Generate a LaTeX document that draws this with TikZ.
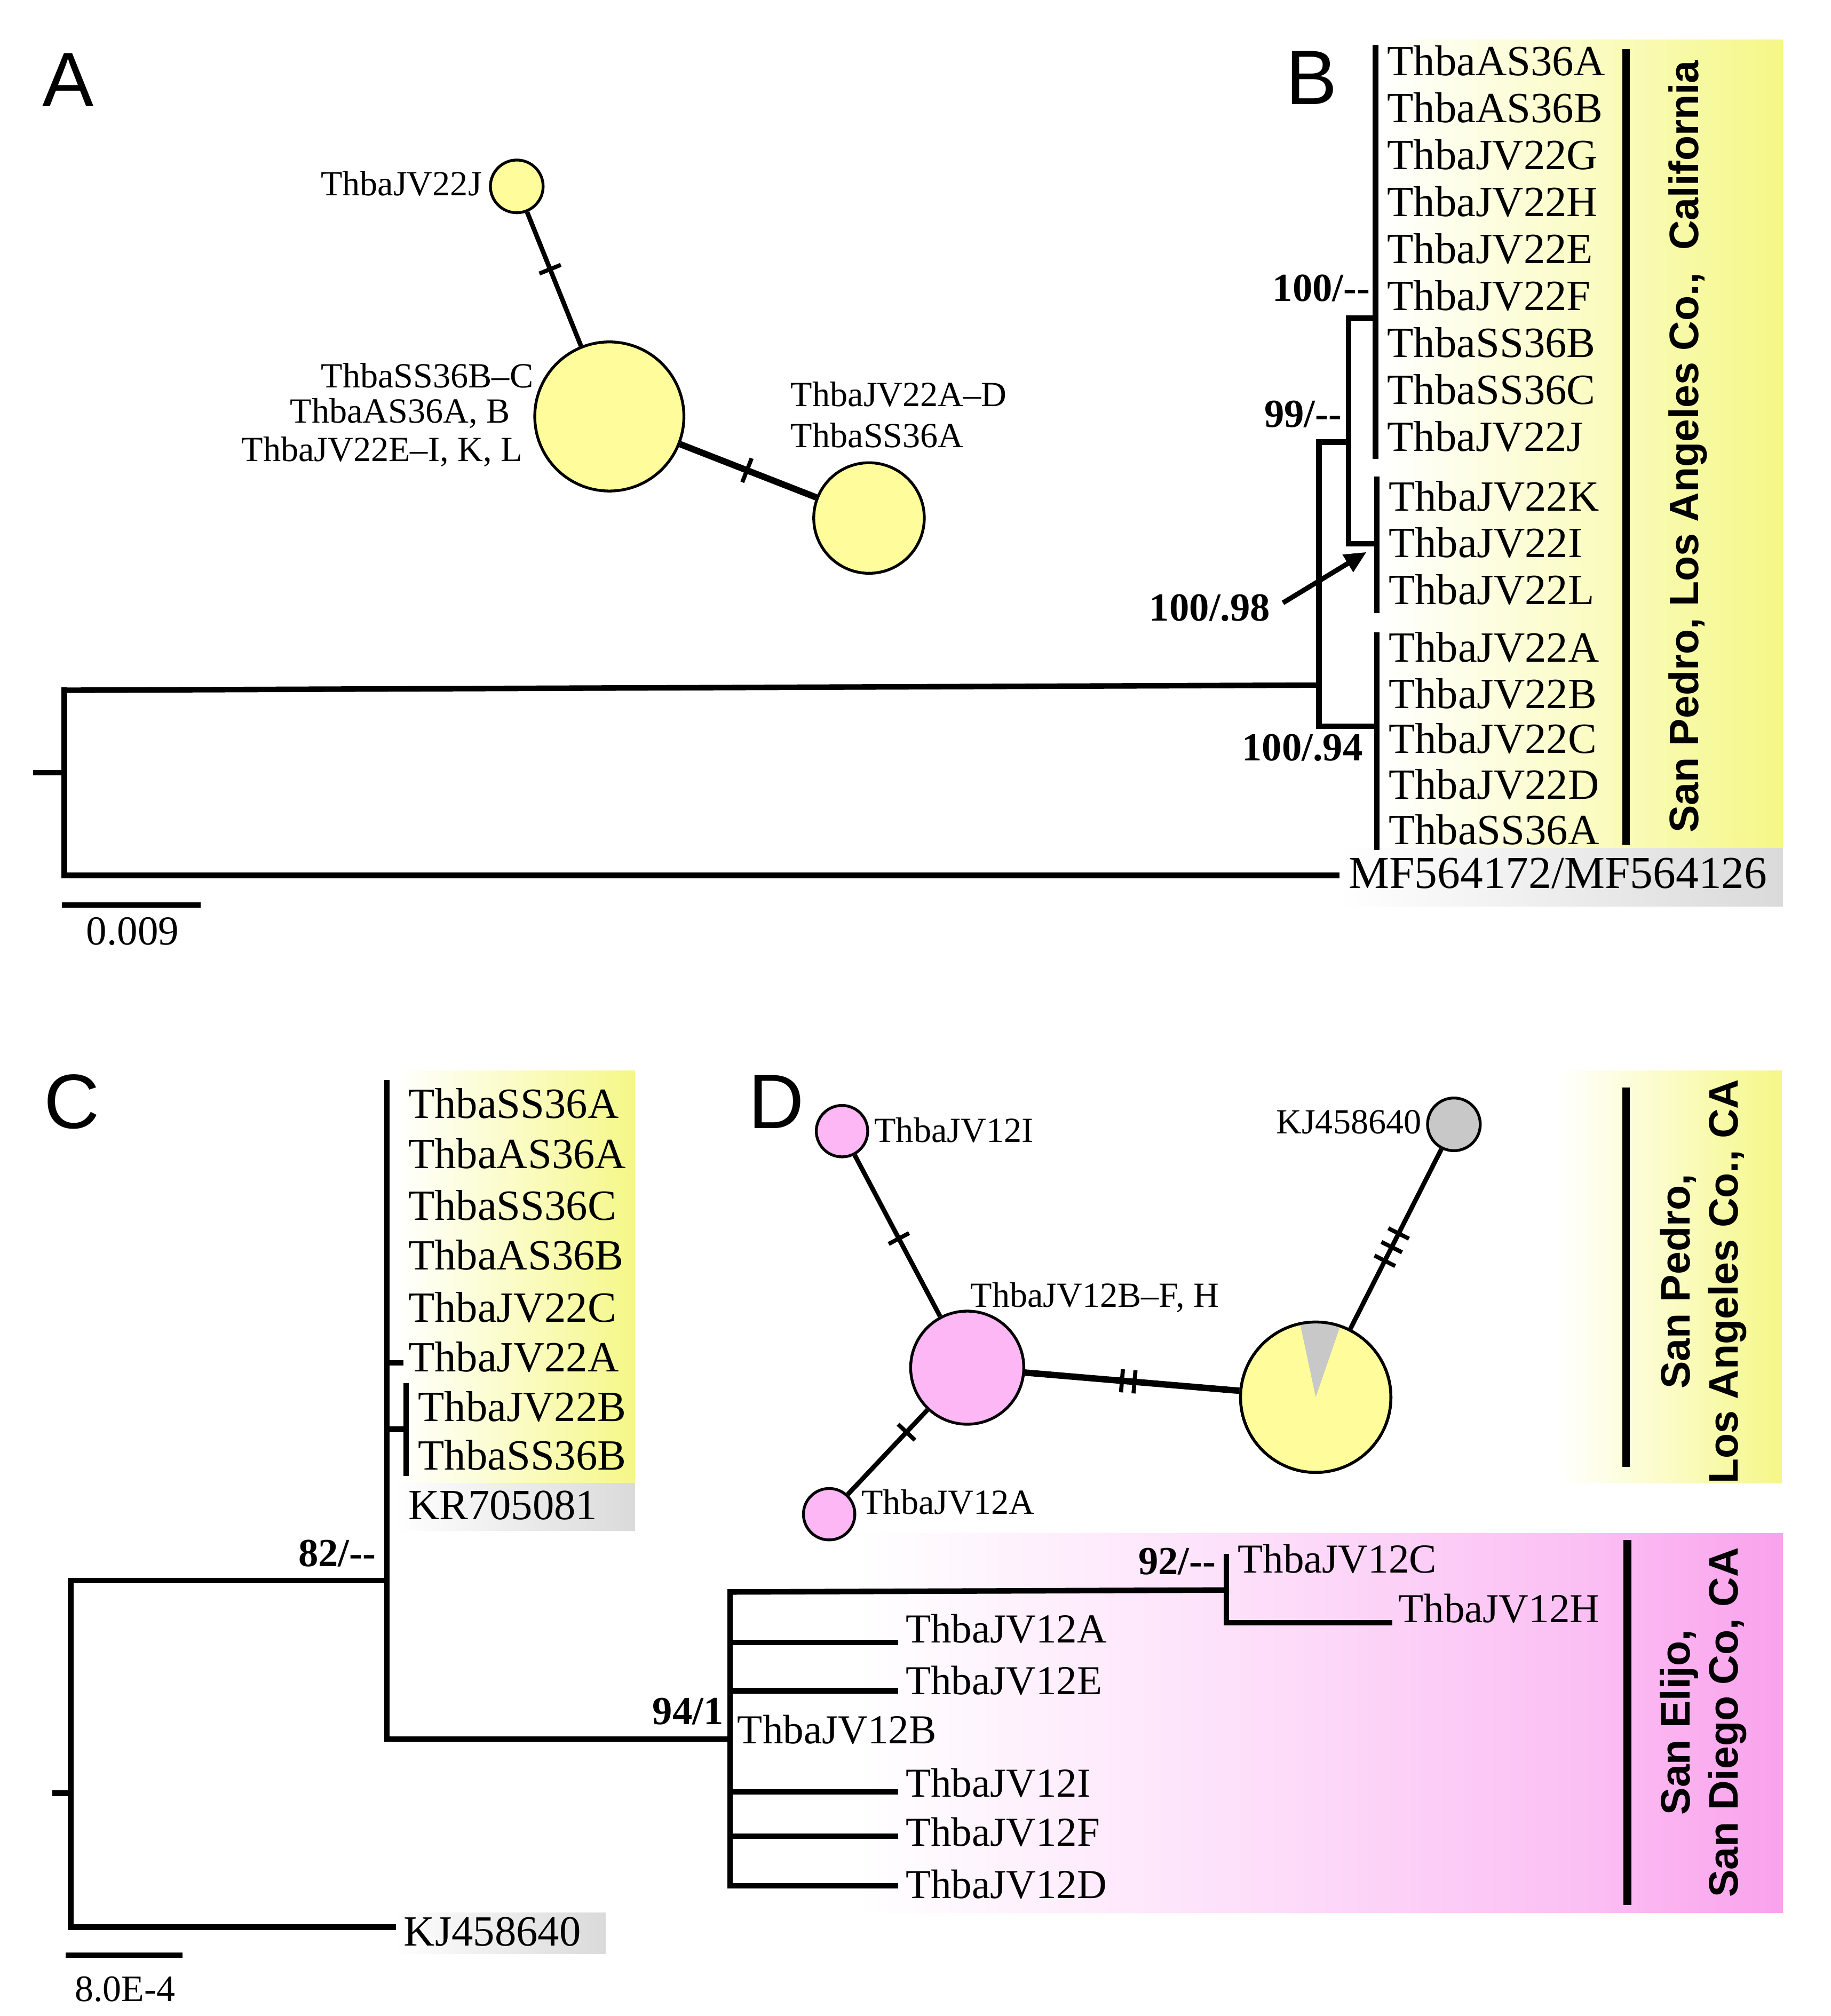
\documentclass[tikz,border=0pt]{standalone}
\usepackage{fontspec}
\setmainfont{Liberation Serif}
\setsansfont{Liberation Sans}
\usetikzlibrary{calc,arrows.meta}
\definecolor{hapyel}{RGB}{255,253,155}
\definecolor{happnk}{RGB}{253,183,245}
\definecolor{hapgry}{RGB}{200,200,200}
\definecolor{yelM}{RGB}{251,252,200}
\definecolor{yelR}{RGB}{245,247,135}
\definecolor{pnkA}{RGB}{253,222,250}
\definecolor{pnkB}{RGB}{251,190,243}
\definecolor{pnkR}{RGB}{250,162,236}
\definecolor{gryR}{RGB}{218,218,218}
\pgfdeclarehorizontalshading{yelshade}{100bp}{color(0bp)=(white); color(27bp)=(white); color(50bp)=(yelM); color(75bp)=(yelR); color(100bp)=(yelR)}
\pgfdeclarehorizontalshading{pnkshade}{100bp}{color(0bp)=(white); color(31bp)=(white); color(50bp)=(pnkA); color(66bp)=(pnkB); color(75bp)=(pnkR); color(100bp)=(pnkR)}
\pgfdeclarehorizontalshading{gryshade}{100bp}{color(0bp)=(white); color(25bp)=(white); color(75bp)=(gryR); color(100bp)=(gryR)}
\tikzset{
  tree/.style={line width=4.3pt, line cap=rect},
  tip/.style={anchor=base west, inner sep=0pt, font=\fontsize{33.5}{40}\selectfont},
  tipD/.style={anchor=base west, inner sep=0pt, font=\fontsize{32}{38}\selectfont},
  boot/.style={inner sep=0pt, font=\bfseries\fontsize{31}{36}\selectfont},
  panel/.style={anchor=base west, inner sep=0pt, font=\sffamily\fontsize{60}{70}\selectfont},
  net/.style={line width=3.6pt},
  netthick/.style={line width=5pt},
  hap/.style={circle, draw, line width=2.2pt, inner sep=0pt},
  hlabel/.style={inner sep=0pt, font=\fontsize{27.5}{32}\selectfont},
  tickmark/.style={line width=3.2pt},
  bar/.style={line width=6pt},
  region/.style={inner sep=0pt, align=center, rotate=90, font=\sffamily\bfseries\fontsize{32}{37}\selectfont},
}
\begin{document}
\begin{tikzpicture}[x=1pt, y=-1pt]
\useasboundingbox (0,0) rectangle (1424,1568.4);
\fill[white] (0,0) rectangle (1424,1568.4);

% ---------------- backgrounds ----------------
\shade[shading=yelshade] (1062,31) rectangle (1387,660);
\shade[shading=gryshade] (1040,660) rectangle (1387,705);
\shade[shading=yelshade] (301,833) rectangle (494,1154);
\shade[shading=gryshade] (306,1154) rectangle (494,1191);
\shade[shading=gryshade] (306,1488) rectangle (471,1520);
\shade[shading=yelshade] (1204,833) rectangle (1386,1154);
\shade[shading=pnkshade] (570,1193) rectangle (1387,1488);

% ---------------- panel letters ----------------
\node[panel] (labA) at (33,83) {A};
\node[panel] (labB) at (1000,81) {B};
\node[panel] (labC) at (34,878) {C};
\node[panel] (labD) at (582,878) {D};

% ---------------- panel A network ----------------
\node[hap, fill=hapyel, minimum size=41] (aJ) at (402,145) {};
\node[hap, fill=hapyel, minimum size=116] (aHub) at (474,324) {};
\node[hap, fill=hapyel, minimum size=86] (aAD) at (676,403) {};
\draw[net] (aJ) -- (aHub);
\draw[netthick] (aHub) -- (aAD);
\coordinate (ta1) at ($(aJ)!0.36!(aHub)$);
\draw[tickmark] ($(ta1)!9pt!90:(aHub)$) -- ($(ta1)!9pt!-90:(aHub)$);
\coordinate (ta2) at ($(aHub)!0.53!(aAD)$);
\draw[tickmark] ($(ta2)!10pt!90:(aAD)$) -- ($(ta2)!10pt!-90:(aAD)$);
\node[hlabel, anchor=base east] (laJ) at (375,152) {ThbaJV22J};
\node[hlabel, anchor=base east] (laH1) at (415,301.5) {ThbaSS36B–C};
\node[hlabel, anchor=base east] (laH2) at (397,329) {ThbaAS36A, B};
\node[hlabel, anchor=base east] (laH3) at (406.5,359) {ThbaJV22E–I, K, L};
\node[hlabel, anchor=base west] (laA1) at (615,316) {ThbaJV22A–D};
\node[hlabel, anchor=base west] (laA2) at (615,348) {ThbaSS36A};

% ---------------- panel B tree ----------------
\coordinate (bStub) at (28,601);
\coordinate (bRoot) at (50,601);
\coordinate (bRootT) at (50,537);
\coordinate (bRootB) at (50,681);
\coordinate (bIn) at (1026,533);
\coordinate (bInT) at (1026,344);
\coordinate (bInB) at (1026,565);
\coordinate (bN2) at (1049,344);
\coordinate (bN2T) at (1049,247.6);
\coordinate (bN2B) at (1049,423);
\coordinate (bN3) at (1070,247.6);
\coordinate (bN3T) at (1070,37);
\coordinate (bN3B) at (1070,355);
\coordinate (bN4) at (1071,423);
\coordinate (bN4T) at (1071,373);
\coordinate (bN4B) at (1071,475);
\coordinate (bN5) at (1071,565);
\coordinate (bN5T) at (1071,494);
\coordinate (bN5B) at (1071,659);
\coordinate (bOut) at (1040,681);
\draw[tree] (bStub) -- (bRoot);
\draw[tree] (bRootT) -- (bRootB);
\draw[tree] (bRootT) -- (bIn);
\draw[tree] (bRootB) -- (bOut);
\draw[tree] (bInT) -- (bInB);
\draw[tree] (bInT) -- (bN2);
\draw[tree] (bInB) -- (bN5);
\draw[tree] (bN2T) -- (bN2B);
\draw[tree] (bN2T) -- (bN3);
\draw[tree] (bN2B) -- (bN4);
\draw[tree] (bN3T) -- (bN3B);
\draw[tree] (bN4T) -- (bN4B);
\draw[tree] (bN5T) -- (bN5B);

\node[tip] (b1) at (1079,58.8) {ThbaAS36A};
\node[tip] (b2) at (1079,95.3) {ThbaAS36B};
\node[tip] (b3) at (1079,131.8) {ThbaJV22G};
\node[tip] (b4) at (1079,168.3) {ThbaJV22H};
\node[tip] (b5) at (1079,204.8) {ThbaJV22E};
\node[tip] (b6) at (1079,241.3) {ThbaJV22F};
\node[tip] (b7) at (1079,277.8) {ThbaSS36B};
\node[tip] (b8) at (1079,314.3) {ThbaSS36C};
\node[tip] (b9) at (1079,350.8) {ThbaJV22J};
\node[tip] (b10) at (1080,397.5) {ThbaJV22K};
\node[tip] (b11) at (1080,433.5) {ThbaJV22I};
\node[tip] (b12) at (1080,470) {ThbaJV22L};
\node[tip] (b13) at (1080,515) {ThbaJV22A};
\node[tip] (b14) at (1080,551) {ThbaJV22B};
\node[tip] (b15) at (1080,586) {ThbaJV22C};
\node[tip] (b16) at (1080,621.5) {ThbaJV22D};
\node[tip] (b17) at (1080,657) {ThbaSS36A};
\node[tip, font=\fontsize{35.5}{40}\selectfont] (bMF) at (1049,691) {MF564172/MF564126};

\node[boot, anchor=base east] (bs1) at (1066,234.4) {100/-{}-};
\node[boot, anchor=base east] (bs2) at (1044,332.4) {99/-{}-};
\node[boot, anchor=base west] (bs3) at (894,483) {100/.98};
\node[boot, anchor=base west] (bs4) at (966,591.6) {100/.94};
\coordinate (arrTail) at (998,469);
\coordinate (arrTip) at (1063,429.5);
\draw[line width=3.8pt, -{Triangle[length=17pt,width=15pt]}] (arrTail) -- (arrTip);

\coordinate (bBarT) at (1265,38);
\coordinate (bBarB) at (1265,657);
\draw[bar] (bBarT) -- (bBarB);
\node[region] (bReg) at (1313,347.5) {San Pedro, Los Angeles Co.,\ \ California};

% scale bar B
\coordinate (sbB1) at (48,704);
\coordinate (sbB2) at (156,704);
\draw[line width=4.3pt] (sbB1) -- (sbB2);
\node[tip, font=\fontsize{32}{38}\selectfont] (sbBl) at (67,735) {0.009};

% ---------------- panel C tree ----------------
\coordinate (cStub) at (43,1395);
\coordinate (cRoot) at (55,1395);
\coordinate (cRootT) at (55,1229.7);
\coordinate (cRootB) at (55,1499.3);
\coordinate (cIn) at (301,1229.7);
\coordinate (cInT) at (301,842.4);
\coordinate (cInB) at (301,1353);
\coordinate (cTk) at (311.5,1060.3);
\coordinate (cTk0) at (301,1060.3);
\coordinate (cSub0) at (301,1112);
\coordinate (cSub) at (316,1112);
\coordinate (cSubT) at (316,1078);
\coordinate (cSubB) at (316,1146);
\coordinate (cOut) at (306,1499.3);
\coordinate (dRoot) at (568,1353);
\draw[tree] (cStub) -- (cRoot);
\draw[tree] (cRootT) -- (cRootB);
\draw[tree] (cRootT) -- (cIn);
\draw[tree] (cRootB) -- (cOut);
\draw[tree] (cInT) -- (cInB);
\draw[tree] (cTk0) -- (cTk);
\draw[tree] (cSub0) -- (cSub);
\draw[tree] (cSubT) -- (cSubB);
\draw[tree] (cInB) -- (dRoot);

\node[tip] (c1) at (317.4,870) {ThbaSS36A};
\node[tip] (c2) at (317.4,908.8) {ThbaAS36A};
\node[tip] (c3) at (317.4,949) {ThbaSS36C};
\node[tip] (c4) at (317.4,987.8) {ThbaAS36B};
\node[tip] (c5) at (317.4,1028.4) {ThbaJV22C};
\node[tip] (c6) at (317.4,1067) {ThbaJV22A};
\node[tip] (c7) at (325,1105.8) {ThbaJV22B};
\node[tip] (c8) at (325,1143.5) {ThbaSS36B};
\node[tip] (c9) at (317.4,1182.3) {KR705081};
\node[tip] (cKJ) at (314,1513.8) {KJ458640};
\node[boot, anchor=base east] (cs1) at (292.6,1218.6) {82/-{}-};

\coordinate (sbC1) at (51,1521);
\coordinate (sbC2) at (142,1521);
\draw[line width=4.3pt] (sbC1) -- (sbC2);
\node[tip, font=\fontsize{29}{35}\selectfont] (sbCl) at (58,1557) {8.0E-4};

% ---------------- panel D tree ----------------
\coordinate (dT) at (568,1238.5);
\coordinate (dB) at (568,1467);
\coordinate (dN) at (954,1237);
\coordinate (dNT) at (954,1211);
\coordinate (dNB) at (954,1262.3);
\coordinate (dH) at (1081,1262.3);
\draw[tree] (dT) -- (dB);
\draw[tree] (dT) -- (dN);
\draw[tree] (dNT) -- (dNB);
\draw[tree] (dNB) -- (dH);
\foreach \yy/\nm in {1277.8/dA,1315.3/dE,1394/dI,1428.4/dF,1467/dD}{
  \coordinate (\nm0) at (568,\yy);
  \coordinate (\nm1) at (696.5,\yy);
  \draw[tree] (\nm0) -- (\nm1);
}
\node[tipD] (d1) at (962.7,1223.7) {ThbaJV12C};
\node[tipD] (d2) at (1087.7,1262.3) {ThbaJV12H};
\node[tipD] (d3) at (704.4,1278) {ThbaJV12A};
\node[tipD] (d4) at (704.4,1318.4) {ThbaJV12E};
\node[tipD] (d5) at (573.5,1356.4) {ThbaJV12B};
\node[tipD] (d6) at (704.4,1398) {ThbaJV12I};
\node[tipD] (d7) at (704.4,1436.3) {ThbaJV12F};
\node[tipD] (d8) at (704.4,1476.8) {ThbaJV12D};
\node[boot, anchor=base east] (ds1) at (563,1341.5) {94/1};
\node[boot, anchor=base east] (ds2) at (946,1225) {92/-{}-};

% ---------------- panel D network ----------------
\node[hap, fill=happnk, minimum size=40] (nI) at (655,880) {};
\node[hap, fill=happnk, minimum size=88] (nHub) at (752.4,1064) {};
\node[hap, fill=happnk, minimum size=40] (nA) at (645,1178) {};
\node[hap, fill=hapgry, minimum size=41] (nKJ) at (1131,874.7) {};
\node[hap, fill=hapyel, minimum size=117] (nPie) at (1023.5,1087) {};
\fill[hapgry] (nPie.center) -- (nPie.71) -- (nPie.76) -- (nPie.81) -- (nPie.86) -- (nPie.91) -- (nPie.96) -- (nPie.102) -- cycle;
\node[hap, minimum size=117] (nPieRim) at (nPie.center) {};
\draw[net] (nI) -- (nHub);
\draw[net] (nHub) -- (nA);
\draw[netthick] (nHub) -- (nPie);
\draw[net] (nPie) -- (nKJ);
\coordinate (td1) at ($(nI)!0.454!(nHub)$);
\draw[tickmark] ($(td1)!9pt!90:(nHub)$) -- ($(td1)!9pt!-90:(nHub)$);
\coordinate (td2) at ($(nHub)!0.44!(nA)$);
\draw[tickmark] ($(td2)!9pt!90:(nA)$) -- ($(td2)!9pt!-90:(nA)$);
\foreach \tt/\nm in {0.444/td3,0.48/td4}{
  \coordinate (\nm) at ($(nHub)!\tt!(nPie)$);
  \draw[tickmark] ($(\nm)!9pt!90:(nPie)$) -- ($(\nm)!9pt!-90:(nPie)$);
}
\foreach \tt/\nm in {0.50/td5,0.55/td6,0.60/td7}{
  \coordinate (\nm) at ($(nPie)!\tt!(nKJ)$);
  \draw[tickmark] ($(\nm)!9pt!90:(nKJ)$) -- ($(\nm)!9pt!-90:(nKJ)$);
}
\node[hlabel, anchor=base west] (lnI) at (680,888.8) {ThbaJV12I};
\node[hlabel, anchor=base west] (lnHub) at (754.8,1017) {ThbaJV12B–F, H};
\node[hlabel, anchor=base west] (lnA) at (670,1178) {ThbaJV12A};
\node[hlabel, anchor=base east] (lnKJ) at (1106,882) {KJ458640};

% ---------------- region bars D ----------------
\coordinate (dBar1T) at (1265,846);
\coordinate (dBar1B) at (1265,1141);
\coordinate (dBar2T) at (1266,1198);
\coordinate (dBar2B) at (1266,1482);
\draw[bar] (dBar1T) -- (dBar1B);
\draw[bar] (dBar2T) -- (dBar2B);
\node[region] (dReg1) at (1325,997) {San Pedro,\\Los Angeles Co., CA};
\node[region] (dReg2) at (1325,1340) {San Elijo,\\San Diego Co, CA};
\end{tikzpicture}
\end{document}
